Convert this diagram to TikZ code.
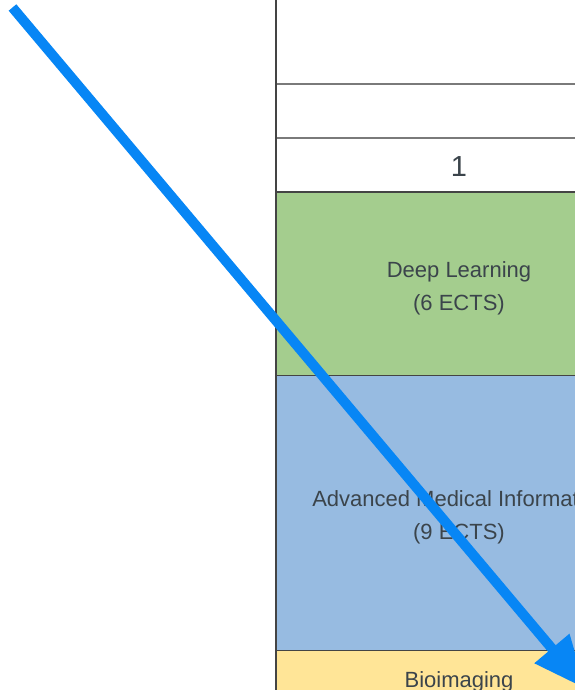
\documentclass[tikz,border=0pt]{standalone}
\usepackage{fontspec}
\setmainfont{Liberation Sans}
\usetikzlibrary{arrows.meta}
\definecolor{cgreen}{HTML}{A4CD8E}
\definecolor{cblue}{HTML}{97BBE1}
\definecolor{cyellow}{HTML}{FFE597}
\definecolor{arrowblue}{HTML}{0786F5}
\definecolor{txt}{HTML}{3B444B}
\definecolor{lightline}{HTML}{7A7A7A}
\definecolor{darkline}{HTML}{444444}
\tikzset{
  cellline/.style={draw=darkline, line width=1.3pt},
  lightrule/.style={draw=lightline, line width=1.6pt},
  lbl/.style={text=txt, font=\fontsize{22}{26}\selectfont, inner sep=0pt, anchor=base},
  biglbl/.style={text=txt, font=\fontsize{29}{34}\selectfont, inner sep=0pt, anchor=base},
  bigarrow/.style={draw=arrowblue, line width=10pt, -{Triangle[length=53pt,width=43pt]}}
}
\begin{document}
\begin{tikzpicture}[x=1pt,y=-1pt]
\useasboundingbox (0,0) rectangle (575,690);
\clip (0,0) rectangle (575,690);
\fill[white] (0,0) rectangle (575,690);
% cells
\path[fill=white] (276,-5) rectangle (642,84.3);
\path[fill=white] (276,84.3) rectangle (642,137.7);
\path[fill=white] (276,137.7) rectangle (642,192);
\path[fill=cgreen] (276,192) rectangle (642,375.7);
\path[fill=cblue] (276,375.7) rectangle (642,650.7);
\path[fill=cyellow] (276,650.7) rectangle (642,700);
% rules
\draw[lightrule] (276,84.3) -- (642,84.3);
\draw[lightrule] (276,137.7) -- (642,137.7);
\draw[cellline] (276,192) -- (642,192);
\draw[cellline] (276,375.7) -- (642,375.7);
\draw[cellline] (276,650.7) -- (642,650.7);
\draw[draw=darkline, line width=1.8pt] (276,-5) -- (276,700);
% texts
\node[biglbl] (n1) at (459,176) {1};
\node[lbl] (dl1) at (459,277.5) {Deep Learning};
\node[lbl] (dl2) at (459,310.5) {(6 ECTS)};
\node[lbl] (am1) at (459,506.5) {Advanced Medical Informatics};
\node[lbl] (am2) at (459,539.5) {(9 ECTS)};
\node[lbl] (bi1) at (459,687.8) {Bioimaging};
% arrow
\coordinate (as) at (12.5,7.5);
\coordinate (ae) at (586,689);
\draw[bigarrow] (as) -- (ae);
\end{tikzpicture}
\end{document}
